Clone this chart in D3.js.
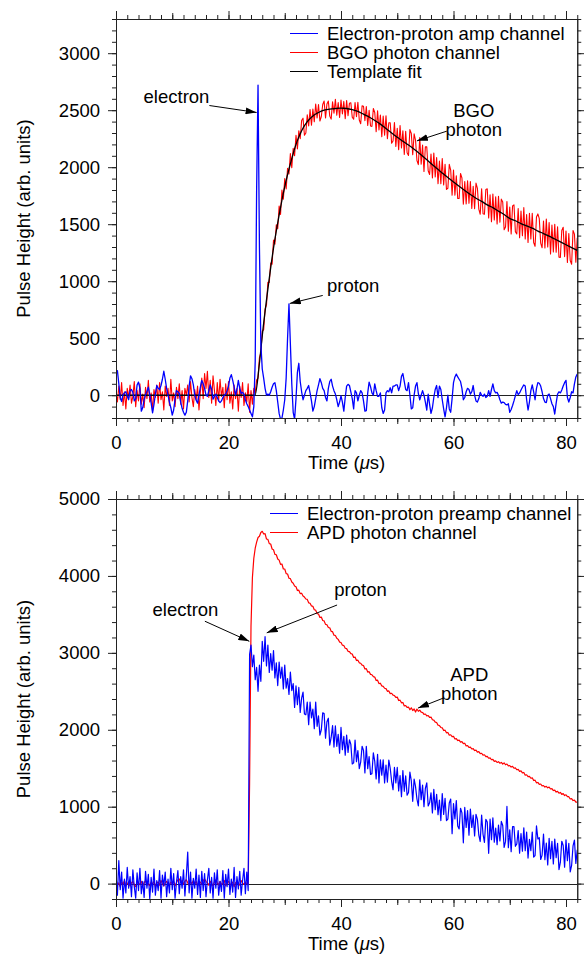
<!DOCTYPE html>
<meta charset="utf-8">
<style>
  body { margin: 0; background: #fff; }
</style>
<svg width="584" height="959"></svg>

<script src="https://d3js.org/d3.v7.min.js"></script>
<script>

// all traces are sampled every dt microseconds, starting at t = 0
var dt = 0.25

// top panel: electron-proton amp channel (blue)
var ampChannel = [
  190,215,100,-20,-55,5,20,30,-10,-40,
  40,50,25,-50,-30,90,115,60,-140,-110,
  -40,5,35,70,0,-70,-155,-80,10,85,
  60,50,85,140,210,140,60,0,-60,-110,
  -175,-130,-35,40,30,15,-60,-115,-150,-175,
  -150,-50,80,170,145,90,0,-45,-70,0,
  70,130,100,60,0,-10,40,90,50,-35,
  -10,10,-20,-50,-65,-50,-20,0,10,40,
  80,150,180,130,70,0,50,130,60,15,
  25,10,-40,-75,-100,-130,-160,-190,-100,300,
  1800,2720,1300,450,230,150,60,0,10,0,
  30,70,100,110,40,-60,-160,-210,-200,-130,
  -40,150,500,800,450,100,-150,-210,-30,200,
  280,120,30,-40,0,40,60,85,20,-50,
  -140,-100,-30,40,90,145,110,60,40,-20,
  -50,60,120,140,80,40,10,-40,-100,-60,
  -5,-60,-140,-20,80,95,85,30,-30,-120,
  40,20,-50,0,40,20,-50,-140,-135,20,
  115,75,20,0,100,40,-10,-10,20,-110,
  -160,-130,20,40,30,65,20,80,80,90,
  90,40,80,165,190,120,50,40,110,0,
  -120,-110,0,80,110,15,-40,0,40,0,
  -60,-130,10,-80,-160,-110,-20,50,85,-20,
  80,50,-40,-120,-190,-110,0,-120,-150,-30,
  110,160,185,160,140,120,60,-40,-20,30,
  60,50,10,30,85,0,-50,-60,-30,25,
  0,-10,10,-20,-10,40,-10,50,100,40,
  20,25,0,-40,-70,-60,-65,-80,-85,-75,
  -150,-125,-90,-50,-5,40,5,20,45,70,
  90,80,-40,-130,-60,40,90,30,-40,60,
  110,105,80,30,-30,-60,-65,0,10,-30,
  -75,-100,-165,-70,10,30,20,45,80,110,
  130,-20,-60,-20,30,20,100,160,185
]

// top panel: BGO photon channel (red)
var bgoChannel = [
  20,-60,80,-40,110,-90,30,-120,60,-20,
  90,-70,-10,120,-100,40,-50,100,-80,10,
  -110,70,-30,130,-60,20,-140,50,-20,90,
  -70,110,-40,30,-130,80,-10,60,-90,140,
  -50,20,-100,70,-30,100,-80,40,-120,60,
  0,90,-60,120,-20,-100,50,-40,80,-130,
  30,150,-30,190,60,210,-20,130,-70,170,
  40,-90,110,-50,140,-10,70,-110,100,-40,
  120,-70,30,-120,90,-30,60,-140,80,-20,
  110,-90,20,-60,100,-150,40,-80,60,20,
  135,150,330,370,560,575,755,790,990,990,
  1160,1150,1360,1325,1495,1460,1660,1585,1800,1720,
  1900,1810,1990,1940,2120,1995,2165,2100,2280,2160,
  2320,2250,2410,2430,2280,2300,2460,2362,2505,2368,
  2510,2398,2555,2432,2550,2405,2445,2550,2580,2432,
  2555,2580,2448,2422,2573,2474,2595,2456,2567,2437,
  2588,2468,2577,2426,2585,2452,2560,2565,2438,2421,
  2567,2444,2570,2414,2381,2538,2535,2409,2532,2366,
  2500,2362,2358,2515,2480,2312,2494,2326,2458,2268,
  2449,2280,2450,2250,2390,2390,2210,2230,2391,2181,
  2342,2154,2366,2168,2320,2112,2315,2127,2103,2330,
  2296,2109,2292,2236,2059,2023,2260,2027,2195,1962,
  2180,2178,1969,1936,2115,1905,2125,1915,2085,1855,
  2055,1855,2075,1845,2025,1805,1815,2025,1975,1755,
  1975,1755,1925,1725,1725,1945,1905,1675,1875,1678,
  1880,1683,1875,1639,1833,1636,1860,1815,1632,1587,
  1810,1592,1587,1805,1810,1554,1758,1521,1765,1537,
  1740,1502,1745,1517,1720,1695,1452,1476,1698,1439,
  1650,1415,1660,1670,1435,1414,1638,1381,1615,1400,
  1645,1370,1585,1340,1595,1370,1595,1339,1306,1563,
  1590,1549,1334,1293,1528,1292,1546,1301,1515,1239,
  1493,1256,1500,1254,1478,1211,1209,1445,1473,1216,
  1440,1164,1418,1181,1149,1445,1413,1166,1380
]

// top panel: template fit (black)
var fitTime = [0,24.7,25.5,26,27,28,29,30,31,32,33,34,35,36,37,38,39,40,41,42,43,44,45,46,47,48,49,50,
  51,52,53,54,55,56,57,58,59,60,61,62,63,64,65,66,67,68,69,70,71,72,73,74,75,76,77,78,79,80,81,82]
var fitValue = [0,0,280,520,930,1290,1580,1830,2030,2200,2320,2400,2450,2480,2500,2510,2515,2518,2515,2505,
  2490,2465,2440,2410,2378,2340,2300,2262,2228,2194,2158,2118,2076,2032,1990,1950,1910,1870,1832,1795,
  1760,1728,1700,1670,1645,1615,1585,1550,1530,1505,1485,1465,1440,1418,1395,1370,1345,1320,1295,1270]

// bottom panel: electron-proton preamp channel (blue)
var preampChannel = [
  120,-150,300,-80,150,-190,60,-120,210,-60,
  90,-170,180,-40,-190,140,-90,200,-130,30,
  -180,160,-60,120,-200,80,-110,190,-150,40,
  -90,170,-190,110,-30,150,-170,60,-120,200,
  -80,130,-190,20,170,-130,90,-60,180,-160,
  100,410,-120,150,-190,70,-60,190,-140,110,
  -180,160,-90,130,-170,50,200,-120,80,-190,
  140,-60,180,-150,30,-100,170,-190,120,-40,
  190,-140,60,-110,210,-180,90,-70,160,-150,
  40,200,-130,150,-90,2980,3100,2820,2970,2650,
  2810,2500,2840,2630,3150,2890,3210,2830,3100,2745,
  2990,2775,3030,2675,2870,2575,2880,2670,2815,2530,
  2840,2540,2665,2460,2750,2510,2600,2290,2570,2325,
  2550,2225,2410,2490,2205,2195,2360,2065,2360,2155,
  2270,2015,2360,2045,2180,1930,2000,2220,2210,1890,
  2105,2150,1800,1900,2055,1775,2050,1785,1940,1695,
  2030,1740,1915,1670,1930,1705,1870,1810,1555,1570,
  1865,1585,1730,1495,1580,1785,1730,1440,1785,1495,
  1650,1420,1430,1700,1590,1360,1680,1310,1610,1410,
  1610,1310,1540,1320,1605,1500,1330,1220,1510,1310,
  1510,1205,1405,1130,1470,1200,1400,1150,1185,1450,
  1335,1070,1360,1260,1100,1010,1350,1090,1280,1000,
  1240,1310,1010,1050,1180,920,1225,960,1160,895,
  1085,820,1170,900,1110,820,840,1050,1100,650,
  1040,840,1080,750,710,980,920,530,990,730,
  950,630,970,730,890,620,900,835,632,547,
  890,642,537,835,800,394,838,571,855,539,
  723,506,760,554,808,755,471,549,1003,466,
  700,415,740,740,485,515,690,395,650,422,
  725,427,670,332,575,427,670,345,365,750,
  580,598,314,371,645,311,528,244,590,325,
  550,255,580,338,525,183,278,550,495,213,
  570,298,525,153,238,490,565,263,440
]

// bottom panel: APD photon channel (red)
var apdChannel = [
  30,-20,10,-40,20,-10,40,-30,0,20,
  -30,10,30,-20,-40,20,0,-10,30,-30,
  10,40,-20,0,-30,20,-10,30,-40,10,
  20,-20,40,0,-30,10,30,-10,-20,20,
  0,30,-30,10,50,60,20,40,-10,30,
  50,10,-20,20,0,40,-10,30,-30,10,
  20,-10,40,60,30,10,-20,30,0,-30,
  20,50,10,-20,30,-10,0,40,-30,10,
  30,-20,0,20,-40,10,30,0,-20,40,
  10,-10,20,0,-10,1300,3350,3980,4230,4360,
  4440,4500,4515,4565,4580,4545,4550,4480,4475,4420,
  4415,4350,4340,4280,4275,4220,4205,4150,4155,4090,
  4090,4030,4025,3970,3965,3920,3905,3870,3860,3810,
  3815,3770,3775,3740,3725,3700,3695,3650,3645,3610,
  3605,3560,3555,3510,3505,3460,3465,3420,3415,3370,
  3365,3330,3325,3280,3275,3230,3225,3190,3175,3140,
  3135,3100,3095,3060,3055,3020,3015,2990,2985,2940,
  2945,2900,2905,2870,2865,2840,2835,2790,2795,2750,
  2755,2720,2715,2690,2685,2640,2645,2600,2605,2570,
  2565,2540,2535,2500,2505,2470,2475,2450,2445,2420,
  2425,2380,2385,2350,2355,2310,2315,2290,2295,2260,
  2285,2250,2270,2230,2270,2240,2255,2230,2225,2200,
  2205,2180,2185,2160,2165,2130,2125,2100,2095,2060,
  2055,2030,2025,1990,1995,1960,1965,1930,1935,1910,
  1915,1880,1885,1860,1865,1840,1845,1820,1825,1790,
  1795,1770,1775,1750,1755,1730,1735,1710,1715,1690,
  1695,1670,1675,1650,1655,1630,1635,1610,1615,1590,
  1595,1575,1585,1565,1575,1555,1570,1545,1555,1530,
  1535,1515,1525,1500,1505,1480,1485,1460,1465,1440,
  1445,1410,1415,1390,1395,1370,1375,1340,1345,1310,
  1315,1290,1295,1270,1275,1255,1265,1245,1255,1230,
  1235,1210,1215,1190,1200,1175,1185,1160,1170,1145,
  1155,1130,1130,1100,1105,1080,1085,1060,1060
]

var xLabelTicks = [0, 20, 40, 60, 80]
var xMidTicks = [10, 30, 50, 70]
var topYLabelTicks = [0, 500, 1000, 1500, 2000, 2500, 3000]
var bottomYLabelTicks = [0, 1000, 2000, 3000, 4000, 5000]

var topLegend = ['Electron-proton amp channel', 'BGO photon channel', 'Template fit']
var bottomLegend = ['Electron-proton preamp channel', 'APD photon channel']

// annotation text and arrows, in data units (time, pulse height)
var topNotes = [
  {lines: ['electron'], at: [4.9, 2560], anchor: 'start', from: [16.6, 2541], to: [25.0, 2480]},
  {lines: ['proton'], at: [37.5, 904], anchor: 'start', from: [36.75, 875], to: [30.9, 805]},
  {lines: ['BGO', 'photon'], at: [63.6, 2440], anchor: 'middle', from: [58.8, 2316], to: [53.5, 2231]}
]
var bottomNotes = [
  {lines: ['electron'], at: [6.5, 3473], anchor: 'start', from: [15.8, 3411], to: [23.7, 3150]},
  {lines: ['proton'], at: [38.8, 3733], anchor: 'start', from: [39.3, 3622], to: [26.8, 3260]},
  {lines: ['APD', 'photon'], at: [62.8, 2640], anchor: 'middle', from: [58.2, 2412], to: [53.7, 2282]}
]

var FONT = '"Liberation Sans", Arial, Helvetica, sans-serif'
var FS = 18.5
var BLUE = '#0000ff', RED = '#ff0000', INK = '#222'

var svg = d3.select('svg')

svg.append('defs').append('marker')
  .attr('id', 'arrow')
  .attr('markerUnits', 'userSpaceOnUse')
  .attr('markerWidth', 12).attr('markerHeight', 7)
  .attr('refX', 11).attr('refY', 3.5)
  .attr('orient', 'auto')
  .append('path').attr('d', 'M0,0L11,3.5L0,7Z').attr('fill', '#000')

function panel(cfg) {
  var x = d3.scaleLinear().domain([0, 82]).range([116, 577.25])
  var y = d3.scaleLinear().domain(cfg.yDomain).range([cfg.bottom, cfg.top])
  var g = svg.append('g')

  g.append('clipPath').attr('id', cfg.id)
    .append('rect')
    .attr('x', x(0)).attr('y', cfg.top)
    .attr('width', x(82) - x(0)).attr('height', cfg.bottom - cfg.top)

  var plot = g.append('g').attr('clip-path', 'url(#' + cfg.id + ')')

  var trace = d3.line()
    .x(function (d, i) { return x(i * dt) })
    .y(function (d) { return y(d) })

  cfg.layers.forEach(function (layer) {
    if (layer.zero) {
      plot.append('line')
        .attr('x1', x(0)).attr('x2', x(82))
        .attr('y1', Math.round(y(0)) + 0.5).attr('y2', Math.round(y(0)) + 0.5)
        .attr('stroke', INK).attr('stroke-width', 1)
    } else if (layer.fit) {
      var fitLine = d3.line()
        .x(function (d, i) { return x(fitTime[i]) })
        .y(function (d) { return y(d) })
        .curve(d3.curveMonotoneX)
      plot.append('path').datum(fitValue)
        .attr('d', fitLine)
        .attr('fill', 'none').attr('stroke', '#000').attr('stroke-width', 1.3)
    } else {
      plot.append('path').datum(layer.data)
        .attr('d', trace)
        .attr('fill', 'none')
        .attr('stroke', layer.color)
        .attr('stroke-width', layer.width)
        .attr('stroke-linejoin', 'round')
    }
  })

  // axes: minor, mid and labelled ticks on all four sides
  function axis(fn, scale, values, size, labelled, transform) {
    var a = fn(scale).tickValues(values).tickSize(size).tickSizeOuter(0)
    if (labelled) a.tickPadding(fn === d3.axisLeft ? 8 : 10).tickFormat(d3.format('d'))
    else a.tickFormat('')
    g.append('g')
      .attr('transform', transform)
      .call(a)
      .attr('color', INK)
      .attr('font-size', FS)
      .attr('font-family', FONT)
      .selectAll('text').attr('fill', '#000')
  }
  var xMinor = d3.range(0, 82.1, 2)
  var yMinor = d3.range(cfg.yDomain[0], cfg.yDomain[1] + 1, cfg.yMinorStep)

  axis(d3.axisBottom, x, xMinor, 4, false, 'translate(0,' + cfg.bottom + ')')
  axis(d3.axisBottom, x, xMidTicks, 6, false, 'translate(0,' + cfg.bottom + ')')
  axis(d3.axisBottom, x, xLabelTicks, 8, true, 'translate(0,' + cfg.bottom + ')')
  axis(d3.axisTop, x, xMinor, 4, false, 'translate(0,' + cfg.top + ')')
  axis(d3.axisTop, x, xMidTicks, 6, false, 'translate(0,' + cfg.top + ')')
  axis(d3.axisTop, x, xLabelTicks, 8, false, 'translate(0,' + cfg.top + ')')
  axis(d3.axisLeft, y, yMinor, 4, false, 'translate(' + x(0) + ',0)')
  axis(d3.axisLeft, y, cfg.yLabels, 8, true, 'translate(' + x(0) + ',0)')
  axis(d3.axisRight, y, yMinor, 4, false, 'translate(' + x(82) + ',0)')
  axis(d3.axisRight, y, cfg.yLabels, 8, false, 'translate(' + x(82) + ',0)')

  // axis titles
  var midY = (cfg.top + cfg.bottom) / 2
  g.append('text')
    .attr('transform', 'translate(30,' + midY + ') rotate(-90)')
    .attr('text-anchor', 'middle')
    .attr('font-family', FONT).attr('font-size', FS)
    .text('Pulse Height (arb. units)')

  var xt = g.append('text')
    .attr('x', (x(0) + x(82)) / 2).attr('y', cfg.bottom + 51)
    .attr('text-anchor', 'middle')
    .attr('font-family', FONT).attr('font-size', FS)
  xt.append('tspan').text('Time (')
  xt.append('tspan').attr('font-style', 'italic').text('\u03bc')
  xt.append('tspan').text('s)')

  // legend
  cfg.legend.forEach(function (label, i) {
    var ly = cfg.legendY + i * 19
    g.append('line')
      .attr('x1', cfg.legendX).attr('x2', cfg.legendX + 28)
      .attr('y1', ly).attr('y2', ly)
      .attr('stroke', cfg.legendColors[i]).attr('stroke-width', 1)
    g.append('text')
      .attr('x', cfg.legendX + 37).attr('y', ly).attr('dy', '0.35em')
      .attr('font-family', FONT).attr('font-size', FS)
      .text(label)
  })

  // annotations
  cfg.notes.forEach(function (n) {
    n.lines.forEach(function (s, j) {
      g.append('text')
        .attr('text-anchor', n.anchor)
        .attr('font-family', FONT).attr('font-size', FS)
        .attr('x', x(n.at[0])).attr('y', y(n.at[1]) + j * 19)
        .text(s)
    })
    g.append('line')
      .attr('x1', x(n.from[0])).attr('y1', y(n.from[1]))
      .attr('x2', x(n.to[0])).attr('y2', y(n.to[1]))
      .attr('stroke', '#000').attr('stroke-width', 1)
      .attr('marker-end', 'url(#arrow)')
  })
}

panel({
  id: 'clipTop', top: 19, bottom: 418,
  yDomain: [-200, 3300], yMinorStep: 100, yLabels: topYLabelTicks,
  layers: [
    {data: bgoChannel, color: RED, width: 1.1},
    {zero: true},
    {fit: true},
    {data: ampChannel, color: BLUE, width: 1.3}
  ],
  legend: topLegend, legendColors: [BLUE, RED, '#000'], legendX: 290, legendY: 33.5,
  notes: topNotes
})

panel({
  id: 'clipBottom', top: 499, bottom: 899,
  yDomain: [-200, 5000], yMinorStep: 200, yLabels: bottomYLabelTicks,
  layers: [
    {zero: true},
    {data: apdChannel, color: RED, width: 1.2},
    {data: preampChannel, color: BLUE, width: 1.2}
  ],
  legend: bottomLegend, legendColors: [BLUE, RED], legendX: 270, legendY: 513.5,
  notes: bottomNotes
})
</script>
